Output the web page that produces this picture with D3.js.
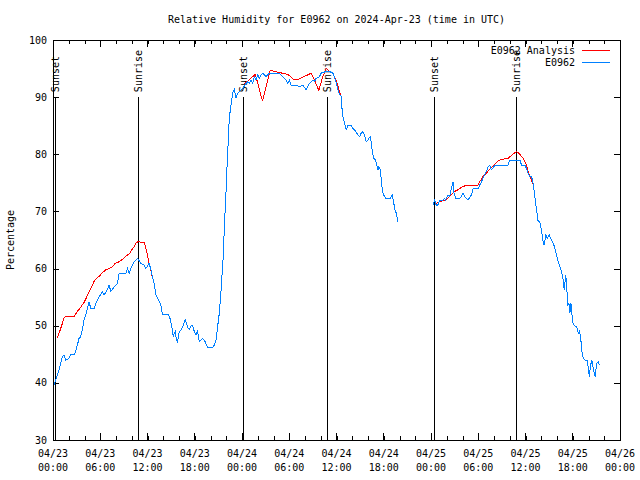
<!DOCTYPE html>
<html><head><meta charset="utf-8">
<script src="https://cdn.jsdelivr.net/npm/d3@7"></script>
<style>
html,body{margin:0;padding:0;background:#fff;}
svg{display:block;}
text{font-family:"DejaVu Sans Mono","Liberation Mono",monospace;font-size:10px;fill:#000;}
</style></head>
<body>
<script>
// ---- data (hours since 2024-04-23 00:00 UTC) ----
const title = "Relative Humidity for E0962 on 2024-Apr-23 (time in UTC)";
const yLabel = "Percentage";
const seriesNames = ["E0962 Analysis", "E0962"];

const analysisHours = [0.55,1.0,1.4,1.6,2.2,2.7,3.1,3.5,4.0,4.4,4.8,5.2,5.4,5.9,6.3,6.7,7.1,7.5,7.9,8.4,8.8,9.2,9.7,10.0,10.3,10.6,10.85,11.6,11.8,12.0,12.2,12.4,12.6,
  null,
  24.3,25.7,26.6,27.57,28.1,28.75,29.8,30.66,31.1,31.7,32.35,32.78,33.2,33.75,34.26,34.7,35.1,35.5,35.96,36.38,36.68,
  null,
  48.68,49.1,49.74,50.16,50.59,51.01,51.43,51.86,52.5,53.34,53.98,54.19,54.61,55.04,55.46,55.88,56.31,56.73,57.37,57.79,58.22,58.86,59.28,59.7,60.04,60.34,60.55,60.77,60.9];
const analysisValues = [47.8,49.6,51.3,51.6,51.7,51.7,52.5,53.2,54.2,55.4,56.5,57.7,58.1,58.7,59.3,59.8,60.0,60.3,60.9,61.2,61.6,62.1,62.6,63.3,63.8,64.6,64.7,64.5,63.5,62.4,60.9,59.8,58.6,
  null,
  92.3,94.0,89.3,94.7,94.5,94.3,94.0,93.0,93.1,93.5,93.9,94.2,93.0,91.2,93.6,95.0,94.5,94.2,93.0,91.0,89.8,
  null,
  71.4,71.7,72.0,72.3,72.9,73.5,73.8,74.2,74.6,74.6,74.6,75.2,76.1,76.7,77.4,78.0,78.6,79.0,79.2,79.3,79.8,80.5,80.0,79.3,78.4,77.0,76.1,75.5,74.8];

const obsHours = [0.13,0.34,0.76,1.18,1.40,1.62,2.04,2.25,2.67,2.89,3.31,3.52,3.73,3.94,4.16,4.36,4.58,4.80,5.22,5.43,5.85,6.07,6.27,6.49,6.91,7.12,7.34,7.76,7.98,8.18,8.40,9.25,9.45,9.67,9.88,10.09,10.30,10.72,11.16,11.58,11.79,12.21,12.43,12.63,12.85,13.06,13.27,13.70,13.90,14.67,14.85,15.10,15.27,15.39,15.52,15.61,15.81,16.03,16.32,16.54,16.79,17.08,17.30,17.52,17.72,17.94,18.15,18.36,18.57,18.79,18.99,19.21,19.42,19.63,20.26,20.48,20.70,20.90,21.12,21.33,21.46,21.63,21.75,22.01,22.13,22.26,22.39,22.64,22.81,23.03,23.24,23.45,23.66,24.08,24.51,24.72,24.93,25.15,25.35,25.57,25.78,25.99,26.21,26.42,26.63,27.06,27.48,28.75,29.17,29.60,29.81,30.02,30.24,30.87,31.29,31.71,32.14,32.35,32.57,32.99,33.20,33.42,33.84,34.05,34.69,35.11,35.53,35.74,35.96,36.17,36.38,36.60,36.68,36.80,37.02,37.24,37.44,37.87,38.08,38.29,38.71,38.93,39.14,39.35,39.56,39.78,39.98,40.11,40.29,40.41,40.54,40.71,40.96,41.13,41.26,41.38,41.56,41.69,41.81,41.98,42.23,42.53,42.83,43.09,43.25,43.38,43.59,43.80,
  null,
  48.25,48.47,48.68,48.89,49.10,49.52,49.74,49.87,50.16,50.38,50.59,50.80,50.92,51.14,51.65,51.86,52.07,52.29,52.50,52.71,53.14,53.34,53.98,54.19,54.41,54.61,54.83,55.04,55.25,55.46,55.67,55.88,56.10,57.79,58.01,59.28,59.50,59.92,60.13,60.34,60.55,60.77,60.97,61.19,61.40,61.61,61.82,62.04,62.24,62.37,62.58,62.75,63.01,63.19,63.44,63.61,63.87,64.15,64.37,64.59,64.79,64.92,65.10,65.22,65.35,65.52,65.64,65.77,65.98,66.15,66.49,66.70,66.83,67.00,67.13,67.34,67.55,67.84,68.10,68.27,68.42,68.63,68.84,69.04,69.26,69.38];
const obsValues = [39.6,40.5,42.3,44.6,44.9,44.0,44.3,44.9,44.9,45.5,47.8,48.1,49.3,51.0,51.9,53.0,54.2,53.0,53.0,53.9,55.1,55.4,56.0,55.4,56.3,57.1,56.0,56.8,57.1,57.4,59.2,59.2,60.0,59.2,60.0,60.6,61.2,61.8,60.9,60.6,60.0,60.9,59.8,58.6,57.4,55.4,54.8,53.6,52.0,52.0,51.3,49.8,48.1,48.7,49.0,48.1,47.0,49.0,49.3,50.1,51.0,49.8,49.3,50.0,50.0,49.0,48.4,49.0,47.2,47.5,47.8,47.5,46.9,46.2,46.2,46.6,47.5,49.8,52.2,56.0,58.9,62.4,67.0,74.6,79.0,82.5,86.4,89.0,90.7,91.3,89.8,90.7,91.0,91.5,92.4,92.7,92.4,93.0,92.4,93.6,93.0,93.9,93.3,93.9,94.2,93.6,94.2,94.2,93.6,93.0,92.4,93.0,92.1,92.1,91.8,92.1,91.3,91.8,92.4,93.0,92.7,93.3,93.6,94.2,94.5,94.5,94.2,93.6,92.5,91.3,90.5,90.1,88.3,86.6,85.4,84.3,85.0,85.1,84.5,84.3,83.4,83.1,83.7,84.0,83.4,82.2,82.5,82.8,83.1,82.2,80.5,79.3,79.0,78.1,77.3,77.8,77.3,75.5,73.8,72.9,72.3,72.2,72.3,72.9,71.7,70.5,69.7,68.2,
  null,
  71.1,72.0,71.0,71.2,72.0,72.0,72.3,72.0,72.9,72.6,74.0,75.2,73.2,72.3,72.3,72.6,73.2,72.6,72.3,72.0,72.9,74.0,74.0,74.6,75.2,75.8,76.4,77.0,77.8,78.1,77.3,77.6,78.1,78.1,79.0,79.0,78.1,78.1,77.5,76.7,76.1,76.1,74.9,72.6,70.3,68.2,68.2,66.5,64.7,64.1,65.9,65.3,65.9,65.3,64.7,64.1,62.7,61.2,60.3,59.4,58.0,56.3,58.9,57.4,53.6,53.9,52.2,53.9,50.7,50.1,49.8,48.7,49.0,48.1,45.8,44.3,44.0,44.0,41.1,43.1,44.0,42.2,41.1,43.4,43.7,43.1];

const sunHours = [0.38, 10.8, 24.25, 34.9, 48.4, 58.9];
const sunLabels = ["Sunset", "Sunrise", "Sunset", "Sunrise", "Sunset", "Sunrise"];

const xTickHours = [0,6,12,18,24,30,36,42,48,54,60,66,72];
const xTickDates = ["04/23","04/23","04/23","04/23","04/24","04/24","04/24","04/24","04/25","04/25","04/25","04/25","04/26"];
const xTickTimes = ["00:00","06:00","12:00","18:00","00:00","06:00","12:00","18:00","00:00","06:00","12:00","18:00","00:00"];
const yTicks = [30,40,50,60,70,80,90,100];

// ---- drawing ----
const W = 640, H = 480;
const L = 53, R = 620, T = 40, B = 440;
const svg = d3.select("body").append("svg").attr("width", W).attr("height", H);

const x = d3.scaleLinear().domain([0, 72]).range([L, R]);
const y = d3.scaleLinear().domain([30, 100]).range([B, T]);

// title
svg.append("text").attr("x", (L + R) / 2).attr("y", 23).attr("text-anchor", "middle").text(title);
// y label
svg.append("text").attr("transform", `translate(14,${(T + B) / 2}) rotate(-90)`)
  .attr("text-anchor", "middle").text(yLabel);

// axes (ticks inward, mirrored)
const gAx = svg.append("g").attr("shape-rendering", "crispEdges");
const minorX = d3.range(0, 73, 2);
const xb = d3.axisBottom(x).tickValues(minorX).tickSize(-4).tickFormat("");
const xt = d3.axisTop(x).tickValues(minorX).tickSize(-4).tickFormat("");
const yl = d3.axisLeft(y).tickValues(yTicks).tickSize(-6).tickFormat("");
const yr = d3.axisRight(y).tickValues(yTicks).tickSize(-6).tickFormat("");
gAx.append("g").attr("transform", `translate(0,${B})`).call(xb);
gAx.append("g").attr("transform", `translate(0,${T})`).call(xt);
gAx.append("g").attr("transform", `translate(${L},0)`).call(yl);
gAx.append("g").attr("transform", `translate(${R},0)`).call(yr);
// major x ticks slightly longer
gAx.selectAll(".majx").data(xTickHours).enter().append("line")
  .attr("x1", d => x(d)).attr("x2", d => x(d)).attr("y1", B).attr("y2", B - 7).attr("stroke", "#000");
gAx.selectAll(".majxt").data(xTickHours).enter().append("line")
  .attr("x1", d => x(d)).attr("x2", d => x(d)).attr("y1", T).attr("y2", T + 7).attr("stroke", "#000");
gAx.selectAll(".domain").remove();
gAx.append("rect").attr("x", L).attr("y", T).attr("width", R - L).attr("height", B - T)
  .attr("fill", "none").attr("stroke", "#000");

// tick labels
svg.selectAll(".yt").data(yTicks).enter().append("text")
  .attr("x", L - 6).attr("y", d => y(d)).attr("dy", "0.35em").attr("text-anchor", "end").text(d => d);
const xl = svg.selectAll(".xl").data(xTickHours).enter().append("text")
  .attr("text-anchor", "middle");
xl.append("tspan").attr("x", d => x(d)).attr("y", 457).text((d, i) => xTickDates[i]);
xl.append("tspan").attr("x", d => x(d)).attr("y", 471).text((d, i) => xTickTimes[i]);

// sun lines & labels
svg.selectAll(".sun").data(sunHours).enter().append("line")
  .attr("shape-rendering", "crispEdges")
  .attr("x1", d => x(d)).attr("x2", d => x(d)).attr("y1", y(90)).attr("y2", B)
  .attr("stroke", "#000");
svg.selectAll(".sunl").data(sunHours).enter().append("text")
  .attr("transform", d => `translate(${x(d)},${y(90) - 5}) rotate(-90)`)
  .attr("dy", "0.35em").attr("text-anchor", "start").text((d, i) => sunLabels[i]);

// series
const mk = (hrs, vals) => hrs.map((h, i) => ({h, v: vals[i]}));
const line = d3.line().defined(d => d.h !== null && d.v !== null).x(d => x(d.h)).y(d => y(d.v));
svg.append("path").datum(mk(analysisHours, analysisValues)).attr("d", line)
  .attr("fill", "none").attr("stroke", "#ff0000").attr("stroke-width", 1).attr("shape-rendering", "crispEdges");
svg.append("path").datum(mk(obsHours, obsValues)).attr("d", line)
  .attr("fill", "none").attr("stroke", "#0080ff").attr("stroke-width", 1).attr("shape-rendering", "crispEdges");

// legend
const legColors = ["#ff0000", "#0080ff"];
seriesNames.forEach((n, i) => {
  const yy = 50 + i * 12.5;
  svg.append("text").attr("x", 575).attr("y", yy).attr("dy", "0.35em").attr("text-anchor", "end").text(n);
  svg.append("line").attr("x1", 582).attr("x2", 610).attr("y1", yy).attr("y2", yy)
    .attr("stroke", legColors[i]).attr("shape-rendering", "crispEdges");
});
</script>
</body></html>
